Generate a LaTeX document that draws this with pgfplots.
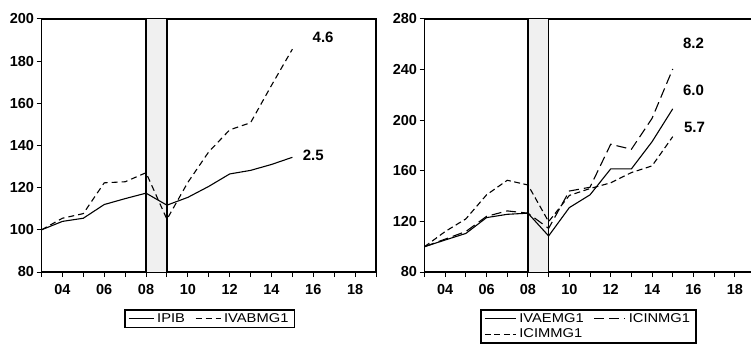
\documentclass[border=0pt]{standalone}
\usepackage{pgfplots}
\pgfplotsset{compat=1.18}
\usepackage{fontspec}
\setmainfont{Liberation Sans}
\newfontfamily\lgfont[FakeStretch=1.15]{Liberation Sans}
\definecolor{shade}{HTML}{F0F0F0}
\pgfplotsset{
  mybase/.style={
    scale only axis,
    xmin=2003, xmax=2019,
    xtick={2004,2006,2008,2010,2012,2014,2016,2018},
    xticklabels={04,06,08,10,12,14,16,18},
    minor xtick={2003,2005,2007,2009,2011,2013,2015,2017,2019},
    tick pos=left,
    tick align=outside,
    major tick length=5pt, minor tick length=5pt,
    every tick/.style={black, line width=1pt},
    axis line style={line width=1.6pt},
    ticklabel style={font=\fontsize{14.5}{16}\selectfont\bfseries},
    /pgf/number format/assume math mode=true,
    xticklabel style={yshift=-3.5pt},
    yticklabel style={xshift=1pt},
    legend cell align=left,
    legend style={draw=black, line width=1.5pt, font=\lgfont\fontsize{12.8}{13}\selectfont,
      inner xsep=3pt, inner ysep=2.5pt, row sep=3pt,
      nodes={inner xsep=3pt, inner ysep=1pt},
      /tikz/every even column/.append style={column sep=7pt}},
  }
}
\begin{document}
\begin{tikzpicture}
\useasboundingbox (0pt,0pt) rectangle (751pt,343pt);
\begin{axis}[mybase, at={(41.5pt,71pt)}, anchor=south west,
  width=334.5pt, height=253pt,
  ymin=80, ymax=200, ytick={80,100,120,140,160,180,200},
  legend columns=2,
  legend image code/.code={\draw[#1] (0pt,0pt) -- (25pt,0pt);},
  legend style={at={(0.503,-0.147)}, anchor=north}]
\addplot[fill=shade, draw=none, forget plot] coordinates {(2008,80) (2009,80) (2009,200) (2008,200)} -- cycle;
\addplot[black, line width=1.2pt, forget plot] coordinates {(2008,80) (2008,200)};
\addplot[black, line width=1.2pt, forget plot] coordinates {(2009,80) (2009,200)};
\addplot[black, line width=1.1pt] coordinates {
(2003,100) (2004,104) (2005,105.5) (2006,112) (2007,114.8) (2008,117.4) (2009,111.7)
(2010,115.4) (2011,120.6) (2012,126.5) (2013,128.2) (2014,131) (2015,134.4)};
\addlegendentry{IPIB}
\addplot[black, line width=1.1pt, dash pattern=on 6pt off 4pt] coordinates {
(2003,100) (2004,105.5) (2005,107.7) (2006,122.3) (2007,122.8) (2008,127.1) (2009,105)
(2010,122.5) (2011,137) (2012,147.4) (2013,150.8) (2014,168.5) (2015,185.7)};
\addlegendentry{IVABMG1}
\node[font=\fontsize{15}{17}\selectfont\bfseries] at (axis cs:2016.47,191.5) {4.6};
\node[font=\fontsize{15}{17}\selectfont\bfseries] at (axis cs:2016.0,135.5) {2.5};
\end{axis}
\begin{axis}[mybase, at={(424.5pt,71pt)}, anchor=south west,
  width=331pt, height=253pt,
  ymin=80, ymax=280, ytick={80,120,160,200,240,280},
  legend columns=2,
  legend image code/.code={\draw[#1] (0pt,0pt) -- (31pt,0pt);},
  legend style={at={(0.496,-0.147)}, anchor=north}]
\addplot[fill=shade, draw=none, forget plot] coordinates {(2008,80) (2009,80) (2009,280) (2008,280)} -- cycle;
\addplot[black, line width=1.2pt, forget plot] coordinates {(2008,80) (2008,280)};
\addplot[black, line width=1.2pt, forget plot] coordinates {(2009,80) (2009,280)};
\addplot[black, line width=1.1pt] coordinates {
(2003,100) (2004,105.3) (2005,110.5) (2006,123) (2007,125.6) (2008,126.5) (2009,108.5)
(2010,130.9) (2011,141) (2012,161.5) (2013,161.5) (2014,183) (2015,209)};
\addlegendentry{IVAEMG1}
\addplot[black, line width=1.1pt, dash pattern=on 10pt off 5pt] coordinates {
(2003,100) (2004,106) (2005,112) (2006,124) (2007,128.3) (2008,126.5) (2009,114.5)
(2010,144) (2011,147) (2012,181) (2013,177) (2014,201.5) (2015,240.5)};
\addlegendentry{ICINMG1}
\addplot[black, line width=1.1pt, dash pattern=on 6pt off 3.5pt] coordinates {
(2003,100) (2004,112) (2005,122) (2006,141) (2007,152.5) (2008,148.8) (2009,119.8)
(2010,140.5) (2011,146) (2012,150.5) (2013,158.6) (2014,163.9) (2015,187)};
\addlegendentry{ICIMMG1}
\node[font=\fontsize{15}{17}\selectfont\bfseries] at (axis cs:2016.0,260.4) {8.2};
\node[font=\fontsize{15}{17}\selectfont\bfseries] at (axis cs:2016.0,223.3) {6.0};
\node[font=\fontsize{15}{17}\selectfont\bfseries] at (axis cs:2016.05,194.4) {5.7};
\end{axis}
\end{tikzpicture}
\end{document}
